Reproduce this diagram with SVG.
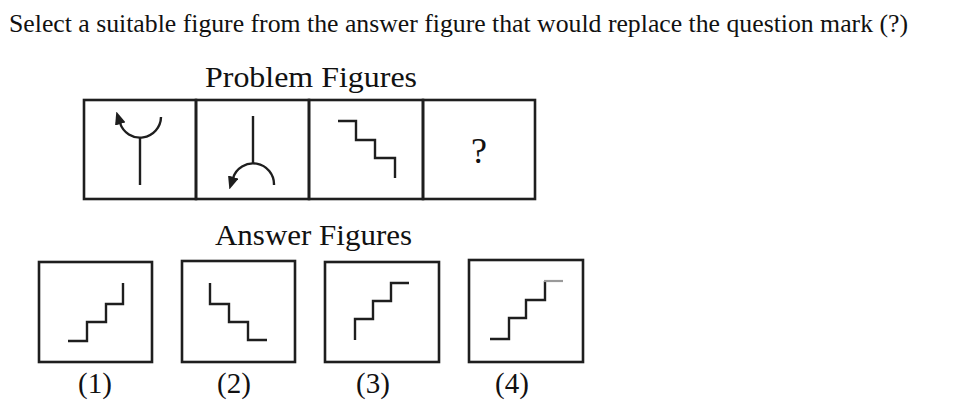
<svg xmlns="http://www.w3.org/2000/svg" width="960" height="420" viewBox="0 0 960 420">
<style>
.bg{fill:#ffffff}
.box{fill:none;stroke:#1e1e1e;stroke-width:2.6}
.fig{fill:none;stroke:#1e1e1e;stroke-width:2.4;stroke-linejoin:miter;stroke-linecap:butt}
.light{fill:none;stroke:#9a9a9a;stroke-width:2.2}
.t{font-family:"Liberation Serif","Times New Roman",serif;fill:#111}
</style>
<defs>
<marker id="ah" viewBox="0 0 13 11" refX="1" refY="5.5" markerWidth="13" markerHeight="11" markerUnits="userSpaceOnUse" orient="auto">
<path d="M0,0 L13,5.5 L0,11 z" fill="#1e1e1e"/>
</marker>
</defs>
<rect class="bg" x="0" y="0" width="960" height="420"/>
<text class="t" x="9" y="32" font-size="26" textLength="899" lengthAdjust="spacingAndGlyphs">Select a suitable figure from the answer figure that would replace the question mark (?)</text>
<text class="t" x="311" y="87" font-size="30" text-anchor="middle" textLength="212" lengthAdjust="spacingAndGlyphs">Problem Figures</text>
<text class="t" x="313.5" y="245" font-size="30" text-anchor="middle" textLength="197" lengthAdjust="spacingAndGlyphs">Answer Figures</text>

<g id="problem-1">
<rect class="box" x="84" y="100" width="112" height="99"/>
<line class="fig" x1="140" y1="138" x2="140" y2="185"/>
<path class="fig" d="M161,117 A21,21 0 0 1 120,123" marker-end="url(#ah)"/>
</g>
<g id="problem-2">
<rect class="box" x="196" y="100" width="113" height="99"/>
<line class="fig" x1="253" y1="116" x2="253" y2="164"/>
<path class="fig" d="M274,185 A21,21 0 0 0 233,178" marker-end="url(#ah)"/>
</g>
<g id="problem-3">
<rect class="box" x="309" y="100" width="114" height="99"/>
<polyline class="fig" points="338,121 356,121 356,140 375,140 375,158 395,158 395,178"/>
</g>
<g id="problem-4">
<rect class="box" x="423" y="100" width="112" height="99"/>
<text class="t" x="479" y="163" font-size="36" text-anchor="middle">?</text>
</g>

<g id="answer-1">
<rect class="box" x="39" y="262" width="113" height="100"/>
<polyline class="fig" points="68,341 87,341 87,322 106,322 106,304 123,304 123,283"/>
<text class="t" x="95" y="393" font-size="29" text-anchor="middle">(1)</text>
</g>
<g id="answer-2">
<rect class="box" x="182" y="261" width="113" height="101"/>
<polyline class="fig" points="210,283 210,304 229,304 229,322 248,322 248,340 267,340"/>
<text class="t" x="234" y="393" font-size="29" text-anchor="middle">(2)</text>
</g>
<g id="answer-3">
<rect class="box" x="325" y="262" width="114" height="100"/>
<polyline class="fig" points="355,340 355,319 373,319 373,301 391,301 391,283 409,283"/>
<text class="t" x="373" y="393" font-size="29" text-anchor="middle">(3)</text>
</g>
<g id="answer-4">
<rect class="box" x="469" y="260" width="114" height="102"/>
<polyline class="fig" points="490,339 509,339 509,318 526,318 526,300 545,300 545,281"/>
<line class="light" x1="544" y1="281" x2="563" y2="281"/>
<text class="t" x="512" y="393" font-size="29" text-anchor="middle">(4)</text>
</g>
<g id="connectors"></g>
</svg>
